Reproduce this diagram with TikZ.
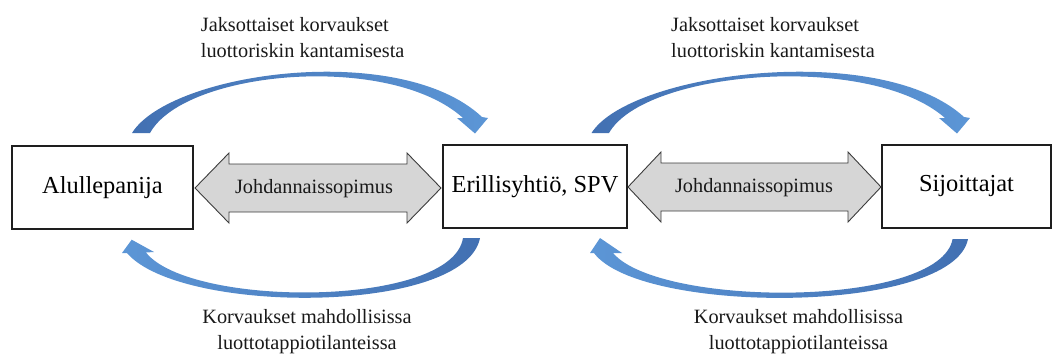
\documentclass[tikz,border=0pt]{standalone}
\usepackage{fontspec}
\setmainfont{Liberation Serif}
\definecolor{boxline}{RGB}{30,30,30}
\definecolor{dafill}{RGB}{214,214,214}
\definecolor{daline}{RGB}{60,60,60}
\definecolor{blueA}{RGB}{66,112,178}
\definecolor{blueB}{RGB}{92,150,214}
\begin{document}
\begin{tikzpicture}[x=1pt,y=-1pt,
  entity/.style={draw=boxline, line width=1.1pt, fill=white, inner sep=0pt,
                 font=\fontsize{24.4}{28}\selectfont},
  dblarrow/.style={draw=daline, line width=0.9pt, fill=dafill, line join=miter},
  smalltext/.style={font=\fontsize{20.3}{26.7}\selectfont, inner sep=0pt, text=black!90},
  toparrow/.style={left color=blueA, right color=blueB, draw=none},
  botarrow/.style={left color=blueB, right color=blueA, draw=none}]
\useasboundingbox (0,0) rectangle (1054,356);
% entities
\node[entity, minimum width=181pt, minimum height=83pt] (orig) at (102.5,187.5) {Alullepanija};
\node[entity, minimum width=184pt, minimum height=83pt] (spv) at (535,186.5) {Erillisyhtiö, SPV};
\node[entity, minimum width=169pt, minimum height=83pt] (inv) at (966.5,186.5) {Sijoittajat};
% double arrows
\draw[dblarrow] (195,188) -- (229,153) -- (229,164) -- (407,164) -- (407,153) -- (441,188)
  -- (407,223) -- (407,212) -- (229,212) -- (229,223) -- cycle;
\node[smalltext] (da1) at (314,189) {Johdannaissopimus};
\draw[dblarrow] (628,187) -- (661,152) -- (661,163) -- (848,163) -- (848,152) -- (881,187)
  -- (848,222) -- (848,211) -- (661,211) -- (661,222) -- cycle;
\node[smalltext] (da2) at (754,188) {Johdannaissopimus};
% curved arrows, top
\shade[toparrow] (132,133) .. controls (170,72) and (400,40) .. (482,117) -- (488,118)
  -- (475,133.5) -- (457,118) -- (463,118) .. controls (390,52) and (185,70) .. (150,133) -- cycle;
\shade[toparrow] (591.5,133) .. controls (630,72) and (880,40) .. (964,117) -- (970,118)
  -- (957,133.5) -- (939,118) -- (945,118) .. controls (870,52) and (645,70) .. (609,133) -- cycle;
% curved arrows, bottom
\shade[botarrow] (480,238) .. controls (465,315) and (180,315) .. (127,253) -- (122,253)
  -- (131.7,239.7) -- (154,252) -- (146,252.5) .. controls (190,308) and (452,308) .. (463,238) -- cycle;
\shade[botarrow] (968,239) .. controls (953,315) and (640,315) .. (594,253) -- (590,253)
  -- (600,238) -- (622,253) -- (613,253) .. controls (660,308) and (940,308) .. (952.6,239) -- cycle;
% labels
\node[smalltext, align=left, anchor=north west] (lt1) at (200.7,16.8)
  {Jaksottaiset korvaukset\\luottoriskin kantamisesta};
\node[smalltext, align=left, anchor=north west] (lt2) at (671,16.8)
  {Jaksottaiset korvaukset\\luottoriskin kantamisesta};
\node[smalltext, align=center, anchor=north] (lb1) at (307,309)
  {Korvaukset mahdollisissa\\luottotappiotilanteissa};
\node[smalltext, align=center, anchor=north] (lb2) at (798.5,309)
  {Korvaukset mahdollisissa\\luottotappiotilanteissa};
\end{tikzpicture}
\end{document}
